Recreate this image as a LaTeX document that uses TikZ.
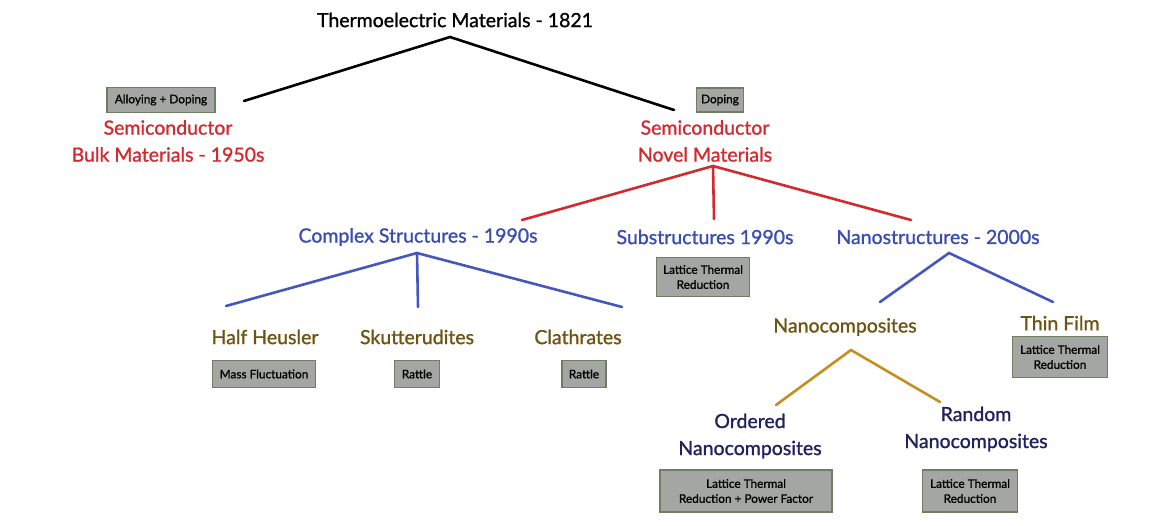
\documentclass[tikz,border=0pt]{standalone}
\usepackage{fontspec}
\setmainfont{Lato}[BoldFont=Lato,BoldFeatures={FakeBold=1.2}]
\definecolor{semred}{HTML}{D22A2F}
\definecolor{strblue}{HTML}{3A4DB2}
\definecolor{linblue}{HTML}{4557BF}
\definecolor{matbrown}{HTML}{6E5412}
\definecolor{linbrown}{HTML}{C58F1E}
\definecolor{navy}{HTML}{22205E}
\definecolor{boxfill}{HTML}{A3A6A2}
\definecolor{boxedge}{HTML}{6F7D62}
\begin{document}
\begin{tikzpicture}[x=1pt,y=-1pt,
  lbl/.style={align=center,inner sep=0pt,font=\fontsize{19.5}{27}\selectfont\bfseries},
  tagbox/.style={draw=boxedge,fill=boxfill,line width=1.3pt,align=center,inner sep=1pt,
    font=\fontsize{11.8}{15}\selectfont\bfseries},
  branch/.style={line width=2.6pt,line cap=round}]
\useasboundingbox (0,0) rectangle (1164,526);

% texts
\node[lbl] (title) at (455,20) {Thermoelectric Materials - 1821};
\node[lbl,text=semred] (bulk) at (168,141) {Semiconductor\\Bulk Materials - 1950s};
\node[lbl,text=semred] (novel) at (705,141) {Semiconductor\\Novel Materials};
\node[lbl,text=strblue] (complex) at (418,237) {Complex Structures - 1990s};
\node[lbl,text=strblue] (sub) at (705,237) {Substructures 1990s};
\node[lbl,text=strblue] (nano) at (938,237) {Nanostructures - 2000s};
\node[lbl,text=matbrown] (hh) at (265,337) {Half Heusler};
\node[lbl,text=matbrown] (sk) at (417,337) {Skutterudites};
\node[lbl,text=matbrown] (cl) at (578,337) {Clathrates};
\node[lbl,text=matbrown] (nc) at (845,327) {Nanocomposites};
\node[lbl,text=matbrown] (tf) at (1060,323) {Thin Film};
\node[lbl,text=navy] (ord) at (750,436) {Ordered\\Nanocomposites};
\node[lbl,text=navy] (rnd) at (976,429) {Random\\Nanocomposites};

% boxes
\node[tagbox,minimum width=108pt,minimum height=25pt] (ad) at (161,100) {Alloying + Doping};
\node[tagbox,minimum width=47pt,minimum height=24pt] (dop) at (720,100) {Doping};
\node[tagbox,minimum width=93pt,minimum height=39pt] (lt1) at (703,277) {Lattice Thermal\\Reduction};
\node[tagbox,minimum width=103pt,minimum height=27pt] (mf) at (264,374) {Mass Fluctuation};
\node[tagbox,minimum width=45pt,minimum height=27pt] (r1) at (417,374) {Rattle};
\node[tagbox,minimum width=44pt,minimum height=27pt] (r2) at (584,374) {Rattle};
\node[tagbox,minimum width=95pt,minimum height=41pt] (lt2) at (1060,357) {Lattice Thermal\\Reduction};
\node[tagbox,minimum width=172pt,minimum height=42pt] (lt3) at (746,491) {Lattice Thermal\\Reduction + Power Factor};
\node[tagbox,minimum width=95pt,minimum height=42pt] (lt4) at (970,491) {Lattice Thermal\\Reduction};

% connector points
\coordinate (tA) at (450,37);
\coordinate (tL) at (244,101);
\coordinate (tR) at (674,110);
\coordinate (nA) at (713,166);
\coordinate (nL) at (522,220);
\coordinate (nM) at (714,219);
\coordinate (nR) at (911,220);
\coordinate (cA) at (417,253);
\coordinate (cL) at (226,306);
\coordinate (cM) at (418,307);
\coordinate (cR) at (622,307);
\coordinate (zA) at (949,253);
\coordinate (zL) at (880,302);
\coordinate (zR) at (1053,302);
\coordinate (kA) at (851,350);
\coordinate (kL) at (776,405);
\coordinate (kR) at (940,402);

\draw[branch,black] (tL) -- (tA) -- (tR);
\draw[branch,semred] (nL) -- (nA) -- (nR);
\draw[branch,semred] (nA) -- (nM);
\draw[branch,linblue] (cL) -- (cA) -- (cR);
\draw[branch,linblue] (cA) -- (cM);
\draw[branch,linblue] (zL) -- (zA) -- (zR);
\draw[branch,linbrown] (kL) -- (kA) -- (kR);
\end{tikzpicture}
\end{document}
